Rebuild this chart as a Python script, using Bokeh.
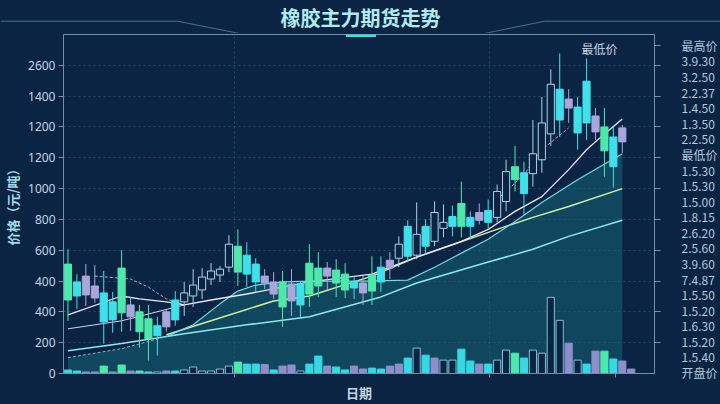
from bokeh.plotting import figure
from bokeh.models import Range1d, LinearAxis, FixedTicker, ColumnDataSource, Label
from bokeh.core.properties import value
from bokeh.embed import file_html
from bokeh.resources import INLINE

# ---------------- data ----------------
title_text = "橡胶主力期货走势"
y_title = "价格（元/吨）"
x_title = "日期"

left_tick_values = [0, 200, 400, 600, 800, 1000, 1200, 1400, 1600, 1800, 2000]
left_tick_labels = ["0", "200", "400", "400", "600", "800", "1000", "1200", "1200", "1400", "2600"]

# right-hand labels, bottom (index 0) to top (index 21)
right_labels = ["开盘价", "1.5.40", "1.5.20", "1.6.30", "1.5.20", "1.5.50", "7.4.87", "3.9.60",
                "2.5.60", "2.6.20", "1.8.15", "1.5.00", "1.5.30", "1.5.30", "最低价", "2.2.50",
                "1.3.50", "1.4.50", "2.2.37", "3.2.50", "3.9.30", "最高价"]

days = list(range(63))
opens = [477, 594, 632, 568, 523, 465, 394, 445, 271, 226, 310, 400, 477, 465, 503, 542, 613, 639, 690, 658,
         768, 710, 632, 594, 432, 581, 581, 516, 568, 684, 587, 542, 594, 587, 535, 690, 735, 748, 955, 768,
         955, 858, 942, 1019, 955, 1013, 1045, 1058, 1013, 1116, 1258, 1303, 1297, 1387, 1555, 1845, 1781, 1729, 1897, 1671,
         1445, 1535, 1594]
closes = [710, 503, 510, 490, 335, 348, 684, 368, 400, 355, 245, 303, 348, 523, 574, 626, 665, 677, 839, 826,
          645, 594, 587, 516, 594, 471, 445, 716, 684, 632, 671, 645, 555, 523, 639, 594, 684, 839, 761, 903,
          826, 1045, 981, 955, 1103, 955, 994, 981, 1181, 1310, 1342, 1168, 1426, 1626, 1877, 1645, 1723, 1561, 1626, 1568,
          1600, 1342, 1503]
highs = [806, 645, 710, 703, 665, 529, 800, 497, 445, 445, 368, 419, 535, 594, 677, 684, 716, 697, 897, 935,
         852, 748, 677, 658, 665, 677, 600, 839, 787, 723, 742, 716, 632, 632, 761, 761, 787, 890, 994, 1110,
         1000, 1116, 1097, 1090, 1245, 1052, 1103, 1129, 1226, 1387, 1477, 1374, 1645, 1794, 1974, 2077, 1845, 1794, 2045, 1723,
         1723, 1600, 1613]
lows = [342, 419, 439, 458, 194, 265, 271, 277, 168, 84, 116, 271, 310, 374, 432, 484, 574, 594, 658, 568,
        561, 529, 548, 484, 303, 374, 355, 432, 497, 542, 497, 490, 484, 445, 445, 529, 613, 690, 723, 742,
        774, 826, 884, 890, 884, 871, 968, 942, 981, 1052, 1181, 1032, 1213, 1303, 1477, 1535, 1626, 1452, 1516, 1516,
        1277, 1206, 1432]
# g = mint, c = cyan, p = lavender, h = hollow
styles = ["g", "c", "p", "p", "c", "c", "g", "p", "g", "g", "c", "p", "c", "h", "h", "h", "h", "h", "h", "g",
          "c", "c", "p", "p", "g", "p", "c", "g", "g", "p", "g", "g", "c", "p", "g", "c", "p", "h", "c", "h",
          "c", "h", "h", "c", "g", "c", "p", "c", "h", "h", "g", "c", "h", "h", "h", "c", "p", "c", "c", "p",
          "g", "c", "p"]

vol_days = list(range(64))
volumes = [23, 16, 10, 10, 48, 10, 55, 16, 16, 10, 10, 16, 16, 23, 42, 16, 16, 29, 48, 74,
           61, 61, 58, 23, 48, 55, 16, 61, 113, 48, 42, 23, 48, 29, 35, 29, 48, 61, 100, 165,
           119, 100, 87, 87, 158, 81, 61, 61, 87, 152, 132, 100, 152, 132, 494, 345, 197, 87, 61, 145,
           145, 94, 81, 29]
vol_styles = ["c", "c", "p", "p", "g", "p", "g", "p", "g", "c", "h", "p", "c", "h", "h", "h", "h", "h", "h", "g",
              "c", "c", "p", "c", "p", "p", "h", "c", "c", "p", "c", "c", "p", "p", "c", "c", "p", "p", "c", "h",
              "c", "p", "h", "h", "c", "c", "p", "c", "h", "h", "g", "c", "h", "h", "h", "h", "p", "h", "c", "p",
              "g", "c", "p", "p"]

# moving-average style lines (day index, price)
ma_white_x = [0, 6, 8, 11, 13, 16, 20, 27, 34, 39, 44, 47, 50, 53, 56, 58, 60, 62]
ma_white_y = [381, 503, 484, 465, 445, 477, 516, 594, 645, 755, 858, 935, 1052, 1148, 1323, 1452, 1555, 1652]
ma_white2_x = [0, 6, 13]
ma_white2_y = [290, 342, 445]
ma_cyan_x = [11, 14, 17, 19, 21, 24, 27, 33, 38, 41, 44, 47, 50, 53, 57, 62]
ma_cyan_y = [239, 316, 452, 535, 574, 594, 600, 600, 606, 690, 781, 871, 987, 1110, 1258, 1426]
ma_cyan_early_x = [0, 6, 11]
ma_cyan_early_y = [103, 161, 239]
ma_yellow_x = [11, 16, 23, 27, 34, 39, 47, 52, 56, 62]
ma_yellow_y = [252, 342, 471, 503, 632, 755, 916, 1013, 1084, 1200]
ma_long_x = [0, 6, 13, 20, 27, 35, 39, 47, 52, 56, 62]
ma_long_y = [148, 194, 258, 316, 368, 497, 587, 723, 806, 890, 994]
ma_dash1_x = [3, 7, 9, 11, 13]
ma_dash1_y = [632, 613, 561, 484, 445]
ma_dash2_x = [48, 51, 53, 56]
ma_dash2_y = [1129, 1290, 1452, 1594]

# ---------------- styling ----------------
BG = "#0c2444"
AXIS = "#6f8fae"
FILL = {"g": "#4ee8ac", "c": "#3fe0ea", "p": "#a9a6dc", "h": BG}
LINE = {"g": "#4ee8ac", "c": "#3fe0ea", "p": "#a9a6dc", "h": "#a9d4e4"}
VFILL = {"g": "#4ee8ac", "c": "#38d8e2", "p": "#8e8fca", "h": BG}
VLINE = {"g": "#4ee8ac", "c": "#38d8e2", "p": "#8e8fca", "h": "#7fbfd0"}

W = 720
HEAD_H = 33
MAIN_H = 371
XS, XE = -0.5, 65.6
YS, YE = 0, 2200
R0, R1 = -0.064, 21.70

# ---------- header strip: title and its decorative rule ----------
head = figure(width=W, height=HEAD_H, x_range=Range1d(0, W), y_range=Range1d(HEAD_H, 0),
              output_backend="svg", toolbar_location=None, x_axis_type=None, y_axis_type=None,
              min_border=0, background_fill_color=BG, border_fill_color=BG)
head.grid.visible = False
head.outline_line_color = None
DECO = "#46708f"
head.line([0, 177, 244], [20.7, 20.7, 34], line_color=DECO, line_width=1)
head.line([479, 544, W], [34, 20.7, 20.7], line_color=DECO, line_width=1)
head.text(x=[W / 2], y=[17], text=[title_text], text_align="center", text_baseline="middle",
          text_font=value("Noto Sans CJK SC"), text_font_size="20px", text_font_style="bold",
          text_color="#b0ecf4")

# ---------- main chart ----------
p = figure(width=W, height=MAIN_H, x_range=Range1d(XS, XE), y_range=Range1d(YS, YE),
           output_backend="svg", toolbar_location=None,
           min_border_left=63, min_border_right=65, min_border_top=1, min_border_bottom=29,
           background_fill_color=BG, border_fill_color=BG)
p.extra_y_ranges = {"r": Range1d(R0, R1)}

p.outline_line_color = AXIS
p.outline_line_alpha = 1

# grids
p.ygrid.ticker = FixedTicker(ticks=left_tick_values)
p.ygrid.grid_line_color = "#2f5676"
p.ygrid.grid_line_dash = "2 3"
p.ygrid.grid_line_alpha = 0.7
p.xgrid.ticker = FixedTicker(ticks=[18.6, 47.2])
p.xgrid.grid_line_color = "#2f5676"
p.xgrid.grid_line_dash = "2 3"
p.xgrid.grid_line_alpha = 0.7

# left axis
ya = p.yaxis[0]
ya.ticker = FixedTicker(ticks=left_tick_values)
ya.major_label_overrides = {v: t for v, t in zip(left_tick_values, left_tick_labels)}
ya.axis_label = y_title
ya.axis_label_text_font = "Noto Sans CJK SC"
ya.axis_label_text_font_size = "13px"
ya.axis_label_text_font_style = "bold"
ya.axis_label_text_color = "#a3dbe6"
ya.axis_label_standoff = 3
ya.major_label_text_font = "Noto Sans"
ya.major_label_text_font_size = "12px"
ya.major_label_text_color = "#c3d5e6"
ya.major_label_standoff = 3
ya.axis_line_color = AXIS
ya.major_tick_line_color = AXIS
ya.major_tick_out = 5
ya.major_tick_in = 0
ya.minor_tick_line_color = None

# bottom axis: only small tick marks and the title
xa = p.xaxis[0]
xa.ticker = FixedTicker(ticks=[], minor_ticks=[18.6, 47.2, 61.2])
xa.axis_label = x_title
xa.axis_label_text_font = "Noto Sans CJK SC"
xa.axis_label_text_font_size = "13px"
xa.axis_label_text_font_style = "bold"
xa.axis_label_text_color = "#c6d6e6"
xa.axis_label_standoff = 5
xa.axis_line_color = AXIS
xa.major_tick_line_color = None
xa.minor_tick_line_color = AXIS
xa.minor_tick_out = 4
xa.minor_tick_in = 0

# right axis
label_ks = list(range(len(right_labels)))
minor_ks = [R0 + v / (YE - YS) * (R1 - R0) for v in left_tick_values[1:]] + [len(right_labels) - 1]
ra = LinearAxis(y_range_name="r", ticker=FixedTicker(ticks=label_ks, minor_ticks=minor_ks))
ra.major_label_overrides = {k: right_labels[k] for k in label_ks}
ra.major_label_text_font = "Noto Sans CJK SC"
ra.major_label_text_font_size = "12px"
ra.major_label_text_color = "#b3c8dc"
ra.major_label_standoff = 21
ra.major_tick_line_color = None
ra.major_tick_out = 0
ra.minor_tick_line_color = AXIS
ra.minor_tick_out = 6
ra.minor_tick_in = 0
ra.axis_line_color = AXIS
p.add_layout(ra, "right")

# area fill under the cyan average
fill_x = ma_cyan_early_x + ma_cyan_x[1:]
fill_y = ma_cyan_early_y + ma_cyan_y[1:]
p.varea(x=fill_x, y1=0, y2=fill_y, fill_color="#17707f", fill_alpha=0.45)

# volume bars
vsrc = ColumnDataSource(dict(x=vol_days, top=volumes,
                             fc=[VFILL[s] for s in vol_styles], lc=[VLINE[s] for s in vol_styles]))
p.vbar(x="x", top="top", bottom=0, width=0.8, fill_color="fc", line_color="lc", source=vsrc)

# average lines
p.line(ma_long_x, ma_long_y, line_color="#8ee8f0", line_width=1.5)
p.line(ma_yellow_x, ma_yellow_y, line_color="#cdf2a6", line_width=1.5)
p.line(ma_cyan_x, ma_cyan_y, line_color="#6fd8e8", line_width=1.2)
p.line(ma_cyan_early_x, ma_cyan_early_y, line_color="#7fb8c8", line_width=1, line_dash="3 2")
p.line(ma_white2_x, ma_white2_y, line_color="#d8d0f0", line_width=1)
p.line(ma_dash1_x, ma_dash1_y, line_color="#8fb8c8", line_width=1, line_dash="3 2")
p.line(ma_dash2_x, ma_dash2_y, line_color="#8fb8c8", line_width=1, line_dash="3 2")
p.line(ma_white_x, ma_white_y, line_color="#ece6fa", line_width=1.3)

# candles
csrc = ColumnDataSource(dict(
    x=days, high=highs, low=lows,
    top=[max(o, c) for o, c in zip(opens, closes)],
    bottom=[min(o, c) for o, c in zip(opens, closes)],
    fc=[FILL[s] for s in styles], lc=[LINE[s] for s in styles]))
p.segment(x0="x", y0="low", x1="x", y1="high", line_color="lc", line_width=1, source=csrc)
p.vbar(x="x", top="top", bottom="bottom", width=0.8, fill_color="fc", line_color="lc", source=csrc)


# helpers converting page pixels (decoration only) into data space
def dx(px):
    return XS + (px - 63) * (XE - XS) / 592


def dy(py):
    return YS + (375 - py) * (YE - YS) / 341


# small cyan accent on the frame's top edge
p.line([dx(346), dx(376)], [dy(35), dy(35)], line_color="#4fd8e8", line_width=3)

# note above the tallest candle
p.add_layout(Label(x=dx(600), y=dy(48), text="最低价", text_align="center", text_baseline="middle",
                   text_font="Noto Sans CJK SC", text_font_size="12px", text_color="#c9d9e8"))

html = file_html([head, p], INLINE)
html = html.replace("<head>", "<head>\n<style>html,body{background:#0c2444;}</style>", 1)
open("out.html", "w").write(html)
